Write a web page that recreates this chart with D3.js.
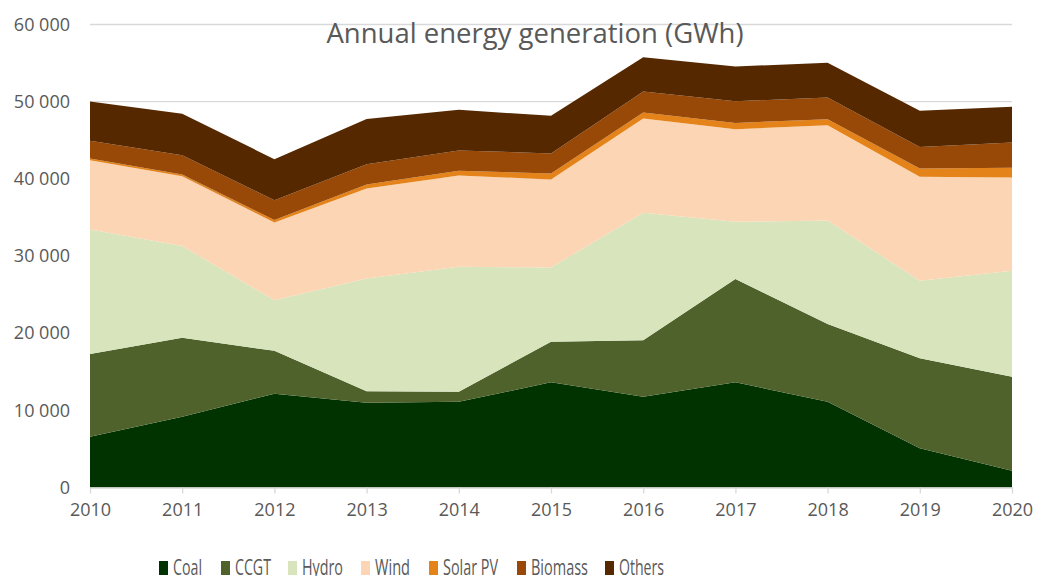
<!DOCTYPE html>
<html>
<head>
<meta charset="utf-8">
<script src="https://cdn.jsdelivr.net/npm/d3@7"></script>
<style>
  body { margin: 0; background: #fff; }
  text { font-family: "Open Sans", "Noto Sans", sans-serif; fill: #595959; }
</style>
</head>
<body>
<div id="chart"></div>
<script>
      var years = [2010, 2011, 2012, 2013, 2014, 2015, 2016, 2017, 2018, 2019, 2020];
      var seriesNames = ['Coal', 'CCGT', 'Hydro', 'Wind', 'Solar PV', 'Biomass', 'Others'];
      var coal    = [6580, 9170, 12150, 10980, 11110, 13630, 11760, 13630, 11110, 5080, 2180];
      var ccgt    = [10710, 10230, 5570, 1480, 1300, 5260, 7310, 13380, 10070, 11660, 12170];
      var hydro   = [16160, 11880, 6530, 14640, 16190, 9630, 16530, 7420, 13430, 10050, 13730];
      var wind    = [8970, 9070, 10100, 11660, 11840, 11400, 12220, 12010, 12350, 13470, 12100];
      var solar   = [220, 220, 300, 510, 600, 780, 780, 810, 770, 1090, 1250];
      var biomass = [2280, 2500, 2590, 2630, 2640, 2590, 2720, 2810, 2810, 2760, 3280];
      var others  = [5110, 5350, 5310, 5870, 5260, 4870, 4440, 4500, 4490, 4700, 4620];
      var yTicks = [0, 10000, 20000, 30000, 40000, 50000, 60000];
      var colors = ['#003300', '#4f622b', '#d8e4bc', '#fcd5b5', '#e3831a', '#984807', '#552800'];

      var width = 1037;
      var height = 576;
      var plotLeft = 90, plotRight = 1012, plotTop = 24.5, plotBottom = 487.5;

      // build rows for d3.stack
      var allSeries = [coal, ccgt, hydro, wind, solar, biomass, others];
      var rows = years.map(function (y, i) {
        var r = { year: y };
        seriesNames.forEach(function (n, j) { r[n] = allSeries[j][i]; });
        return r;
      });
      var stacked = d3.stack().keys(seriesNames)(rows);

      var svg = d3.select('#chart').append('svg')
          .attr('width', width)
          .attr('height', height);

      var xScale = d3.scaleLinear()
          .domain(d3.extent(years))
          .range([plotLeft, plotRight]);
      var yScale = d3.scaleLinear()
          .domain([0, 60000])
          .range([plotBottom, plotTop]);

      // gridlines
      svg.append('g')
        .selectAll('line')
        .data(yTicks.slice(1))
        .enter()
        .append('line')
          .attr('x1', plotLeft).attr('x2', plotRight)
          .attr('y1', d => yScale(d)).attr('y2', d => yScale(d))
          .attr('stroke', '#d9d9d9')
          .attr('stroke-width', 1.3);

      // title (behind areas)
      svg.append('text')
          .attr('x', 535)
          .attr('y', 43)
          .style('text-anchor', 'middle')
          .style('font-size', '27.5px')
          .text('Annual energy generation (GWh)');

      var area = d3.area()
          .x(d => xScale(d.data.year))
          .y0(d => yScale(d[0]))
          .y1(d => yScale(d[1]));

      svg.append('g')
        .selectAll('path')
        .data(stacked)
        .enter()
        .append('path')
          .attr('d', area)
          .attr('fill', (d, i) => colors[i]);

      // x axis
      var xAxis = d3.axisBottom(xScale)
          .tickValues(years)
          .tickFormat(d3.format('d'))
          .tickSizeInner(6)
          .tickSizeOuter(0)
          .tickPadding(10);
      var gx = svg.append('g')
          .attr('transform', 'translate(0,' + plotBottom + ')')
          .call(xAxis);
      gx.select('.domain').attr('stroke', '#d9d9d9').attr('stroke-width', 1.3);
      gx.selectAll('.tick line').attr('stroke', '#d9d9d9').attr('stroke-width', 1.3);
      gx.selectAll('.tick text').style('font-size', '18px').attr('fill', '#595959');

      // y axis labels
      var yAxis = d3.axisLeft(yScale)
          .tickValues(yTicks)
          .tickFormat(d => d3.format(',')(d).replace(/,/g, ' '))
          .tickSize(0)
          .tickPadding(20);
      var gy = svg.append('g')
          .attr('transform', 'translate(' + plotLeft + ',0)')
          .call(yAxis);
      gy.select('.domain').remove();
      gy.selectAll('.tick text').style('font-size', '18px').attr('fill', '#595959');

      // legend (reference is squeezed horizontally, so keys are narrow and text condensed)
      var legendX = [159, 221, 288, 361, 429, 517, 605];
      var legendW = [29, 36, 41, 35, 55, 57, 45];
      var legend = svg.append('g')
        .selectAll('g')
        .data(seriesNames)
        .enter()
        .append('g')
          .attr('transform', (d, i) => 'translate(' + legendX[i] + ',561)');
      legend.append('rect')
          .attr('width', 9).attr('height', 14)
          .attr('fill', (d, i) => colors[i]);
      legend.append('text')
          .attr('x', 14)
          .attr('y', 14)
          .style('font-size', '21px')
          .attr('textLength', (d, i) => legendW[i])
          .attr('lengthAdjust', 'spacingAndGlyphs')
          .text(d => d);
</script>
</body>
</html>
